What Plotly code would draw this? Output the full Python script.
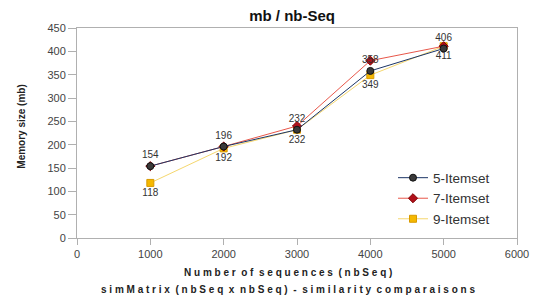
import plotly.graph_objects as go

nb_seq = [1000, 2000, 3000, 4000, 5000]
s5 = [154, 196, 232, 358, 406]
s7 = [154, 196, 240, 380, 411]
s9 = [118, 192, 232, 349, 411]

lab5 = [str(v) for v in s5]
lab9 = [str(v) for v in s9]

x_ticks = [0, 1000, 2000, 3000, 4000, 5000, 6000]
y_ticks = [0, 50, 100, 150, 200, 250, 300, 350, 400, 450]

fig = go.Figure()
fig.add_trace(go.Scatter(
    x=nb_seq, y=s9, name="9-Itemset", mode="lines+markers+text",
    line=dict(color="#f5d76e", width=1),
    marker=dict(symbol="square", size=7, color="#f5b800", line=dict(color="#d89a00", width=1)),
    text=lab9, textposition="bottom center", textfont=dict(size=10, color="#333333"),
))
fig.add_trace(go.Scatter(
    x=nb_seq, y=s7, name="7-Itemset", mode="lines+markers",
    line=dict(color="#e8574a", width=1),
    marker=dict(symbol="diamond", size=7, color="#b0101a", line=dict(color="#800000", width=1)),
))
fig.add_trace(go.Scatter(
    x=nb_seq, y=s5, name="5-Itemset", mode="lines+markers+text",
    line=dict(color="#1c3566", width=1),
    marker=dict(symbol="circle", size=7, color="#3a3a3a", line=dict(color="#111111", width=1)),
    text=lab5, textposition="top center", textfont=dict(size=10, color="#333333"),
))

fig.update_layout(
    width=531, height=294,
    margin=dict(l=69, r=22, t=20, b=64, autoexpand=False),
    paper_bgcolor="white", plot_bgcolor="white",
    font=dict(family="Liberation Sans, Arial, sans-serif", color="#333333"),
    title=dict(text="<b>mb / nb-Seq</b>", x=0.535, xanchor="center", y=0.975, yanchor="middle",
               font=dict(size=15, color="#111111")),
    showlegend=True,
    legend=dict(x=0.95, y=0.36, xanchor="right", yanchor="top",
                traceorder="reversed", font=dict(size=13.5, color="#333333"),
                bgcolor="rgba(0,0,0,0)", tracegroupgap=0),
    annotations=[
        dict(text="<b>N u m b e r  o f  s e q u e n c e s  ( n b S e q )</b>",
             xref="paper", yref="paper", x=0.48, y=-0.162, xanchor="center", yanchor="middle",
             showarrow=False, font=dict(size=10, color="#222222")),
        dict(text="<b>s i m M a t r i x  ( n b S e q  x  n b S e q )  -  s i m i l a r i t y  c o m p a r a i s o n s</b>",
             xref="paper", yref="paper", x=0.48, y=-0.243, xanchor="center", yanchor="middle",
             showarrow=False, font=dict(size=10, color="#222222")),
        dict(text="<b>Memory size (mb)</b>", textangle=-90,
             xref="paper", yref="paper", x=-0.125, y=0.53, xanchor="center", yanchor="middle",
             showarrow=False, font=dict(size=10, color="#222222")),
    ],
)
fig.update_xaxes(
    range=[0, 6000], tickvals=x_ticks, showgrid=False, zeroline=False, automargin=False,
    showline=True, linecolor="#b0b0b0", linewidth=1, mirror=True,
    ticks="outside", ticklen=6, tickcolor="#b0b0b0",
    tickfont=dict(size=11, color="#444444"),
)
fig.update_yaxes(
    range=[0, 450], tickvals=y_ticks, showgrid=False, zeroline=False, automargin=False,
    showline=True, linecolor="#b0b0b0", linewidth=1, mirror=True,
    ticks="outside", ticklen=8, tickcolor="#b0b0b0",
    tickfont=dict(size=11, color="#444444"),
)

fig.write_html("out.html")
